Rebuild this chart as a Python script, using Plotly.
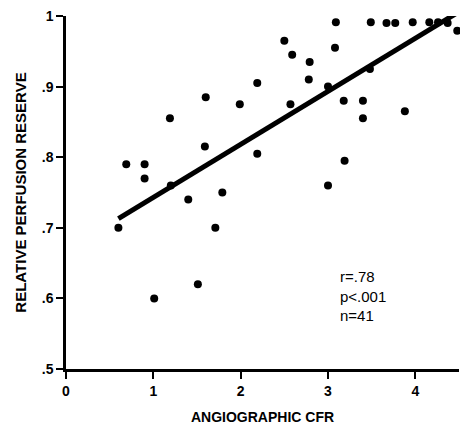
import plotly.graph_objects as go

cfr = [0.60, 0.69, 0.90, 0.90, 1.01, 1.19, 1.20, 1.40, 1.51, 1.60,
       1.59, 1.71, 1.79, 1.99, 2.19, 2.19, 2.50, 2.59, 2.57, 2.79,
       2.78, 3.00, 3.00, 3.09, 3.08, 3.18, 3.19, 3.40, 3.40, 3.48,
       3.49, 3.67, 3.77, 3.97, 4.16, 4.26, 4.37, 4.48, 3.88]
rpr = [0.70, 0.79, 0.79, 0.77, 0.60, 0.855, 0.76, 0.74, 0.62, 0.885,
       0.815, 0.70, 0.75, 0.875, 0.905, 0.805, 0.965, 0.945, 0.875, 0.935,
       0.91, 0.90, 0.76, 0.991, 0.955, 0.88, 0.795, 0.88, 0.855, 0.925,
       0.991, 0.99, 0.99, 0.991, 0.991, 0.991, 0.99, 0.979, 0.865]

fit_x = [0.6, 4.5]
fit_y = [0.713, 1.006]

y_ticks = [0.5, 0.6, 0.7, 0.8, 0.9, 1.0]
y_labels = [".5", ".6", ".7", ".8", ".9", "1"]
x_ticks = [0, 1, 2, 3, 4]
x_labels = ["0", "1", "2", "3", "4"]

stats_text = "r=.78<br>p<.001<br>n=41"

fig = go.Figure()
fig.add_trace(go.Scatter(x=fit_x, y=fit_y, mode="lines",
                         line=dict(color="black", width=5), hoverinfo="skip",
                         cliponaxis=False))
fig.add_trace(go.Scatter(x=cfr, y=rpr, mode="markers", cliponaxis=False,
                         marker=dict(color="black", size=8)))

fam = "Liberation Sans"
fig.update_layout(
    width=460, height=432,
    margin=dict(l=66, r=1, t=16, b=63, autoexpand=False),
    plot_bgcolor="white", paper_bgcolor="white",
    showlegend=False,
    font=dict(family=fam, color="black"),
    xaxis=dict(range=[0, 4.5], tickvals=x_ticks, ticktext=x_labels,
               showline=True, linecolor="black", linewidth=2.5,
               ticks="outside", ticklen=7, tickwidth=1.5, tickcolor="black",
               showgrid=False, zeroline=False, automargin=False,
               tickfont=dict(size=14, family=fam, weight="bold", color="black"),
               title=dict(text="<b>ANGIOGRAPHIC CFR</b>",
                          font=dict(size=14, color="black"), standoff=15)),
    yaxis=dict(range=[0.5, 1.0], tickvals=y_ticks, ticktext=y_labels,
               showline=True, linecolor="black", linewidth=2.5,
               ticks="outside", ticklen=7, tickwidth=1.5, tickcolor="black",
               showgrid=False, zeroline=False, automargin=False,
               tickfont=dict(size=14, family=fam, weight="bold", color="black"),
               title=dict(text="<b>RELATIVE PERFUSION RESERVE</b>",
                          font=dict(size=15, color="black"), standoff=12)),
    annotations=[dict(x=3.11, y=0.603, xref="x", yref="y", text=stats_text,
                      showarrow=False, xanchor="left", yanchor="middle", align="left",
                      font=dict(size=15, family=fam, color="black"))],
)

fig.write_html("out.html", config={"displayModeBar": False},
               post_script="document.body.style.margin='0';document.body.style.overflow='hidden';")
